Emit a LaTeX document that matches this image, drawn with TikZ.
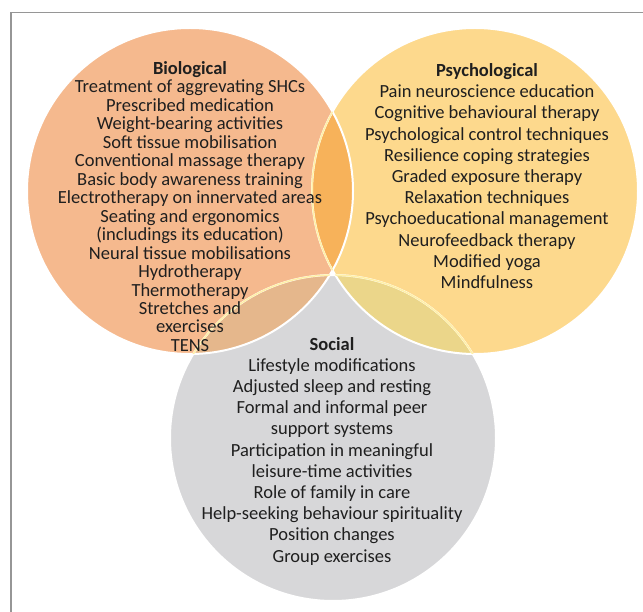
\documentclass[tikz,border=0pt]{standalone}
\usepackage{fontspec}
\setmainfont{Carlito}
\definecolor{bio}{RGB}{245,185,142}
\definecolor{psy}{RGB}{253,217,141}
\definecolor{soc}{RGB}{215,215,217}
\definecolor{biopsy}{RGB}{247,178,90}
\definecolor{biosoc}{RGB}{229,183,140}
\definecolor{psysoc}{RGB}{235,214,138}
\definecolor{rim}{RGB}{255,240,168}
\definecolor{framegray}{RGB}{150,150,150}
\tikzset{
  edge/.style={white,line width=2pt},
  paleedge/.style={rim,line width=1.5pt},
  items/.style={align=center,text=black!88,font=\fontsize{18.5}{21.2}\selectfont},
}
\begin{document}
\begin{tikzpicture}[x=1pt,y=-1pt]
\useasboundingbox (0,0) rectangle (643,612);
\draw[framegray,line width=1.2pt] (11,612) -- (11,12.5) -- (643,12.5);
\coordinate (b) at (190,191);
\coordinate (p) at (475,191);
\coordinate (s) at (333,438);
\fill[soc] (s) circle (163pt);
\fill[psy] (p) circle (163pt);
\fill[bio] (b) circle (163pt);
\begin{scope}
  \clip (b) circle (163pt);
  \fill[biopsy] (p) circle (163pt);
  \fill[biosoc] (s) circle (163pt);
\end{scope}
\begin{scope}
  \clip (p) circle (163pt);
  \fill[psysoc] (s) circle (163pt);
\end{scope}
\draw[edge] (s) circle (163pt);
\draw[edge] (p) circle (163pt);
\draw[edge] (b) circle (163pt);
\begin{scope}
  \clip (b) circle (163pt);
  \draw[paleedge] (p) circle (163pt);
  \draw[paleedge] (s) circle (163pt);
\end{scope}
\begin{scope}
  \clip (p) circle (163pt);
  \draw[paleedge] (s) circle (163pt);
\end{scope}
\node[items,font=\fontsize{18.5}{18.47}\selectfont] (biotext) at (190,206.5) {\textbf{Biological}\\
  Treatment of aggrevating SHCs\\
  Prescribed medication\\
  Weight-bearing activities\\
  Soft tissue mobilisation\\
  Conventional massage therapy\\
  Basic body awareness training\\
  Electrotherapy on innervated areas\\
  Seating and ergonomics\\
  (includings its education)\\
  Neural tissue mobilisations\\
  Hydrotherapy\\
  Thermotherapy\\
  Stretches and\\
  exercises\\
  TENS};
\node[items] (psytext) at (487,176) {\textbf{Psychological}\\
  Pain neuroscience education\\
  Cognitive behavioural therapy\\
  Psychological control techniques\\
  Resilience coping strategies\\
  Graded exposure therapy\\
  Relaxation techniques\\
  Psychoeducational management\\
  Neurofeedback therapy\\
  Modified yoga\\
  Mindfulness};
\node[items] (soctext) at (332,451) {\textbf{Social}\\
  Lifestyle modifications\\
  Adjusted sleep and resting\\
  Formal and informal peer\\
  support systems\\
  Participation in meaningful\\
  leisure-time activities\\
  Role of family in care\\
  Help-seeking behaviour spirituality\\
  Position changes\\
  Group exercises};
\end{tikzpicture}
\end{document}
